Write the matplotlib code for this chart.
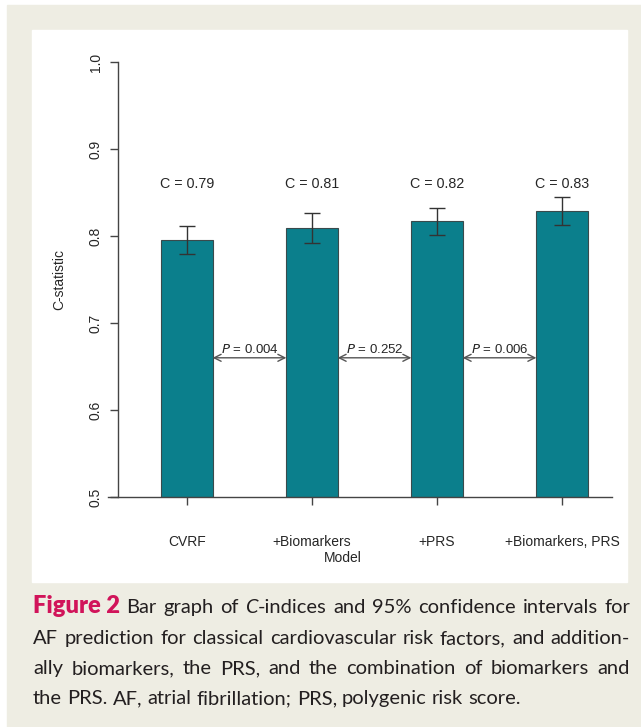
import matplotlib
matplotlib.use("Agg")
import matplotlib.pyplot as plt
from matplotlib.patches import Rectangle

# data
models = ["CVRF", "+Biomarkers", "+PRS", "+Biomarkers, PRS"]
cstat = [0.795, 0.809, 0.817, 0.829]
ci_low = [0.779, 0.792, 0.801, 0.813]
ci_high = [0.811, 0.826, 0.832, 0.845]
c_labels = ["C = 0.79", "C = 0.81", "C = 0.82", "C = 0.83"]
p_values = ["0.004", "0.252", "0.006"]

W, H = 641, 727
BAR_COLOR = "#0b7f8c"
BEIGE = "#eeede3"
TXT = "#262626"

plt.rcParams["font.family"] = ["Liberation Sans", "DejaVu Sans"]

fig = plt.figure(figsize=(W / 100, H / 100), dpi=100)
fig.patch.set_facecolor("white")


def px(x0, y0, x1, y1):
    # pixel box (top-left origin) -> figure fraction rect
    return [x0 / W, 1 - y1 / H, (x1 - x0) / W, (y1 - y0) / H]


# page background + white chart panel
fig.patches.append(Rectangle((7 / W, 0), 1 - 7 / W, 1 - 5 / H,
                             transform=fig.transFigure, color=BEIGE, zorder=-2))
fig.patches.append(Rectangle((32 / W, 1 - 582 / H), (627 - 32) / W, (582 - 30) / H,
                             transform=fig.transFigure, color="white", zorder=-1))

ax = fig.add_axes(px(108, 62, 612, 497))
ax.set_facecolor("none")

xpos = list(range(len(models)))
yerr = [[c - lo for c, lo in zip(cstat, ci_low)],
        [hi - c for c, hi in zip(cstat, ci_high)]]
bar_w = 0.41
ax.bar(xpos, [c - 0.5 for c in cstat], bottom=0.5, width=bar_w,
       color=BAR_COLOR, edgecolor="#3a4a4c", linewidth=0.8, zorder=2)
ax.errorbar(xpos, cstat, yerr=yerr, fmt="none", ecolor="#333333",
            elinewidth=1.0, capsize=6, capthick=1.0, zorder=3)

for x, lab in zip(xpos, c_labels):
    ax.text(x, 0.86, lab, ha="center", va="center", fontsize=10.3, color=TXT)

# pairwise comparison arrows
for i, p in enumerate(p_values):
    x0 = xpos[i] + bar_w / 2
    x1 = xpos[i + 1] - bar_w / 2
    ax.annotate("", xy=(x1, 0.66), xytext=(x0, 0.66),
                arrowprops=dict(arrowstyle="<->,head_length=0.5,head_width=0.25",
                                color="#555555", lw=1.0, shrinkA=0, shrinkB=0))
    ax.text((x0 + x1) / 2, 0.662, f"$\\it{{P}}$ = {p}", ha="center", va="bottom",
            fontsize=9.5, color=TXT)

ax.set_xlim(-0.632, 3.4)
ax.set_ylim(0.5, 1.0)
ax.spines["top"].set_visible(False)
ax.spines["right"].set_visible(False)
ax.spines["left"].set_position(("data", -0.552))
ax.spines["left"].set_bounds(0.5, 1.0)
for s in ("left", "bottom"):
    ax.spines[s].set_color("#444444")
    ax.spines[s].set_linewidth(1.0)

ax.set_yticks([0.5, 0.6, 0.7, 0.8, 0.9, 1.0])
ax.set_yticklabels(["0.5", "0.6", "0.7", "0.8", "0.9", "1.0"], rotation=90, va="center")
ax.set_xticks(xpos)
ax.set_xticklabels(models)
ax.tick_params(axis="y", length=6, width=1.0, color="#444444", pad=5,
               labelsize=10, labelcolor=TXT)
ax.tick_params(axis="x", length=6, width=1.0, color="#444444", pad=21,
               labelsize=10, labelcolor=TXT)

ax.set_xlabel("Model", fontsize=10, color=TXT)
ax.xaxis.set_label_coords(0.466, -0.14)
ax.xaxis.label.set_va("center")
ax.set_ylabel("C-statistic", fontsize=10, color=TXT)
ax.yaxis.set_label_coords(-0.083, 0.5)

# caption, justified line by line
cap_font = ["Lato", "DejaVu Sans"]
cap_size = 14.5
lines = [
    [("Figure 2", "heavy", "normal", "#d1145a"), ("Bar", "normal", "normal", None),
     ("graph", "normal", "normal", None), ("of", "normal", "normal", None),
     ("C", "normal", "italic", None), ("-indices", "normal", "normal", "glue"),
     ("and", "normal", "normal", None), ("95%", "normal", "normal", None),
     ("confidence", "normal", "normal", None), ("intervals", "normal", "normal", None),
     ("for", "normal", "normal", None)],
    "AF prediction for classical cardiovascular risk factors, and addition-",
    "ally biomarkers, the PRS, and the combination of biomarkers and",
    "the PRS. AF, atrial fibrillation; PRS, polygenic risk score.",
]
line_y = [607, 638, 668, 698]
x_left, x_right = 33 / W, 630 / W

fig.canvas.draw()
renderer = fig.canvas.get_renderer()

for li, (line, yp) in enumerate(zip(lines, line_y)):
    if isinstance(line, str):
        words = [(w, "normal", "normal", None) for w in line.split(" ")]
    else:
        words = line
    # merge glued pieces into groups
    groups = []
    for w in words:
        if w[3] == "glue":
            groups[-1].append((w[0], w[1], w[2], None))
        else:
            groups.append([w])
    objs = []
    for g in groups:
        gobjs = []
        for (txt, weight, style, col) in g:
            size = 17 if txt == "Figure 2" else cap_size
            t = fig.text(0, 1 - (yp + 6) / H, txt, fontsize=size, family=cap_font,
                         weight=weight, style=style, color=col or "#231f20",
                         va="baseline", ha="left")
            gobjs.append(t)
        objs.append(gobjs)
    widths = []
    for gobjs in objs:
        widths.append(sum(t.get_window_extent(renderer).width for t in gobjs) / W)
    total = sum(widths)
    if li < len(lines) - 1:
        gap = (x_right - x_left - total) / (len(objs) - 1)
    else:
        gap = 5.2 / W
    x = x_left
    for gobjs, wd in zip(objs, widths):
        xx = x
        for t in gobjs:
            t.set_x(xx)
            xx += t.get_window_extent(renderer).width / W
        x += wd + gap

fig.savefig("out.png", dpi=100, facecolor=fig.get_facecolor())
